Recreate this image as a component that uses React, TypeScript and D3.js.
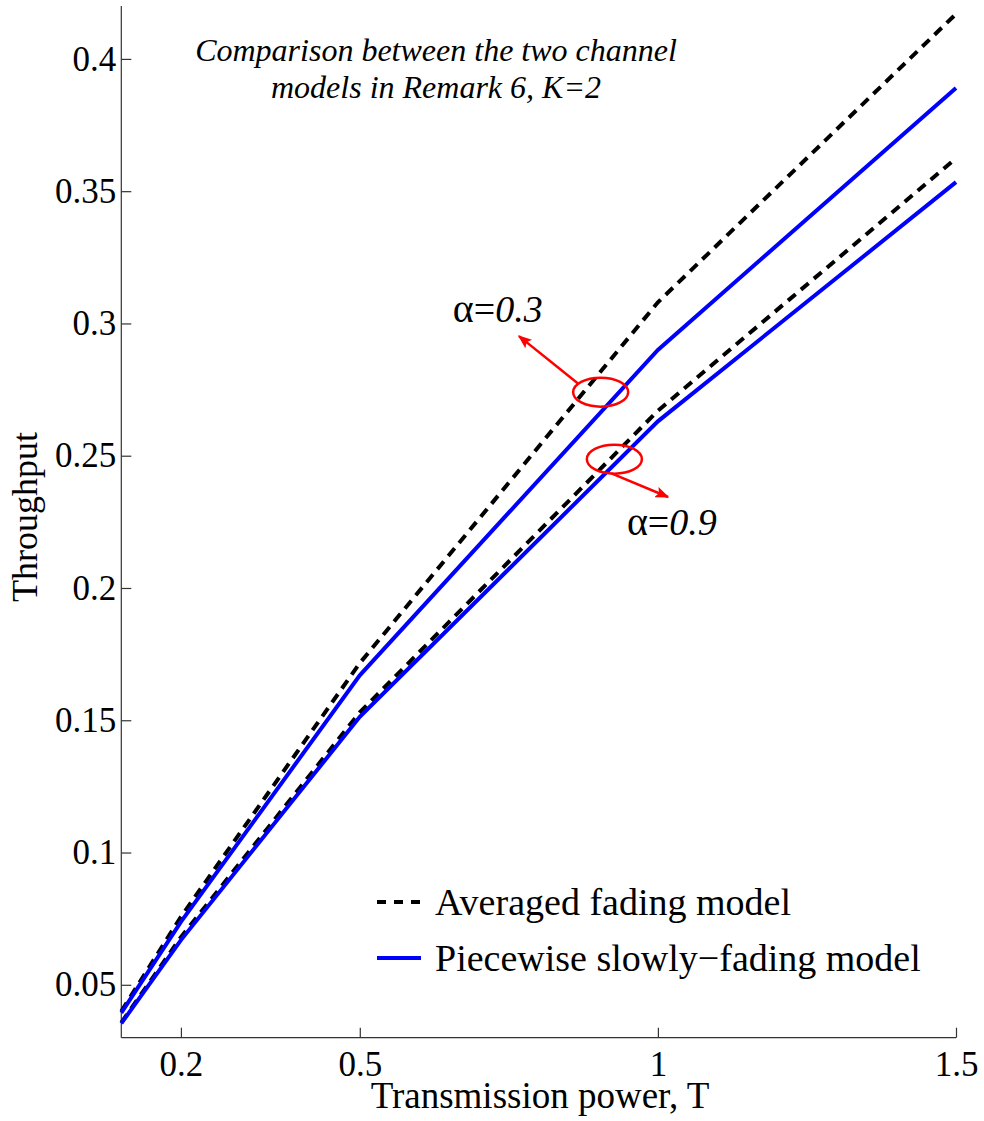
import { useRef, useEffect } from "react";
import * as d3 from "d3";

// transmission power values where the curves were sampled
const powerT = [0.1, 0.2, 0.5, 1, 1.5];

// alpha = 0.3
const avgFading03 = [0.0400, 0.0757, 0.1716, 0.3080, 0.4170];
const piecewise03 = [0.0394, 0.0738, 0.1670, 0.2900, 0.3890];
// alpha = 0.9
const avgFading09 = [0.0357, 0.0680, 0.1530, 0.2670, 0.3624];
const piecewise09 = [0.0354, 0.0669, 0.1513, 0.2630, 0.3534];

const xTicks = [0.2, 0.5, 1, 1.5];
const yTicks = [0.05, 0.1, 0.15, 0.2, 0.25, 0.3, 0.35, 0.4];

const legendLabels = ["Averaged fading model", "Piecewise slowly\u2212fading model"];

const serif = "'Liberation Serif', 'Times New Roman', serif";

function App() {
  const svgRef = useRef<SVGSVGElement>(null);

  useEffect(() => {
    const w = 984;
    const h = 1121;
    const svg = d3.select(svgRef.current).attr("width", w).attr("height", h);
    svg.selectAll("*").remove();

    // scales
    const x = d3.scaleLinear().domain([0.1, 1.5]).range([121.3, 956]);
    const y = d3.scaleLinear().domain([0.03, 0.42]).range([1037.7, 6]);

    const line = d3
      .line<number>()
      .x((d, i) => x(powerT[i]))
      .y((d) => y(d));

    // arrow marker
    svg
      .append("defs")
      .append("marker")
      .attr("id", "arrowhead")
      .attr("viewBox", "0 0 10 10")
      .attr("refX", 9)
      .attr("refY", 5)
      .attr("markerWidth", 14)
      .attr("markerHeight", 11)
      .attr("markerUnits", "userSpaceOnUse")
      .attr("orient", "auto")
      .attr("preserveAspectRatio", "none")
      .append("path")
      .attr("d", "M0,0 L10,5 L0,10 L2,5 Z")
      .attr("fill", "#ff0000");

    // axes
    const xAxis = d3
      .axisBottom(x)
      .tickValues(xTicks)
      .tickSize(-10)
      .tickPadding(13)
      .tickFormat((d) => String(d));
    const gx = svg.append("g").attr("transform", `translate(0, ${y(0.03)})`).call(xAxis);
    gx.select(".domain").attr("d", `M${x(0.1)},0H${x(1.5)}`);

    const yAxis = d3
      .axisLeft(y)
      .tickValues(yTicks)
      .tickSize(-10)
      .tickPadding(5)
      .tickFormat((d) => String(d));
    const gy = svg.append("g").attr("transform", `translate(${x(0.1)}, 0)`).call(yAxis);
    gy.select(".domain").attr("d", `M0,${y(0.03)}V${y(0.42)}`);

    [gx, gy].forEach((g) => {
      g.selectAll("path, line").attr("stroke", "#333").attr("stroke-width", 1.2);
      g.selectAll("text")
        .attr("font-family", serif)
        .attr("font-size", 35)
        .attr("fill", "#000");
    });
    gx.selectAll("text").attr("dy", "0.71em");

    // axis titles
    svg
      .append("text")
      .attr("x", 540)
      .attr("y", 1108)
      .attr("text-anchor", "middle")
      .attr("font-family", serif)
      .attr("font-size", 37)
      .text("Transmission power, T");

    svg
      .append("text")
      .attr("transform", "translate(37, 517) rotate(-90)")
      .attr("text-anchor", "middle")
      .attr("font-family", serif)
      .attr("font-size", 36)
      .text("Throughput");

    // title
    const title = svg
      .append("text")
      .attr("text-anchor", "middle")
      .attr("font-family", serif)
      .attr("font-style", "italic")
      .attr("font-size", 32);
    title.append("tspan").attr("x", 436).attr("y", 61).text("Comparison between the two channel");
    title.append("tspan").attr("x", 436).attr("y", 98).text("models in Remark 6, K=2");

    // series
    const dashed = { stroke: "#000", dash: "10 7" };
    const solid = { stroke: "#0000ff", dash: null };
    const series = [
      { data: avgFading03, ...dashed },
      { data: avgFading09, ...dashed },
      { data: piecewise03, ...solid },
      { data: piecewise09, ...solid },
    ];
    svg
      .selectAll(".series")
      .data(series)
      .join("path")
      .attr("class", "series")
      .attr("d", (d) => line(d.data))
      .attr("fill", "none")
      .attr("stroke", (d) => d.stroke)
      .attr("stroke-width", 4)
      .attr("stroke-dasharray", (d) => d.dash);

    // annotations
    const ann = [
      { cx: 0.904, cy: 0.274, sx: 0.866, sy: 0.2773, tx: 0.767, ty: 0.2952, lx: 0.656, ly: 0.3006, val: "0.3" },
      { cx: 0.927, cy: 0.2487, sx: 0.922, sy: 0.2433, tx: 1.017, ty: 0.2344, lx: 0.948, ly: 0.22, val: "0.9" },
    ];
    ann.forEach((a) => {
      svg
        .append("ellipse")
        .attr("cx", x(a.cx))
        .attr("cy", y(a.cy))
        .attr("rx", 27.5)
        .attr("ry", 14.5)
        .attr("fill", "none")
        .attr("stroke", "#ff0000")
        .attr("stroke-width", 2.5);
      svg
        .append("line")
        .attr("x1", x(a.sx))
        .attr("y1", y(a.sy))
        .attr("x2", x(a.tx))
        .attr("y2", y(a.ty))
        .attr("stroke", "#ff0000")
        .attr("stroke-width", 2.5)
        .attr("marker-end", "url(#arrowhead)");
      const t = svg
        .append("text")
        .attr("x", x(a.lx))
        .attr("y", y(a.ly))
        .attr("font-family", serif)
        .attr("font-size", 38);
      t.append("tspan").attr("font-size", 40).text("\u03b1");
      t.append("tspan").text("=");
      t.append("tspan").attr("font-style", "italic").text(a.val);
    });

    // legend
    const legend = svg.append("g").attr("transform", "translate(377, 0)");
    const rows = [
      { label: legendLabels[0], y: 902, ...dashed },
      { label: legendLabels[1], y: 958, ...solid },
    ];
    rows.forEach((r) => {
      legend
        .append("line")
        .attr("x1", 0)
        .attr("x2", 44)
        .attr("y1", r.y)
        .attr("y2", r.y)
        .attr("stroke", r.stroke)
        .attr("stroke-width", 4)
        .attr("stroke-dasharray", r.dash ? "9 8" : null);
      legend
        .append("text")
        .attr("x", 58)
        .attr("y", r.y)
        .attr("dy", "0.35em")
        .attr("font-family", serif)
        .attr("font-size", 38)
        .text(r.label);
    });
  }, []);

  return <svg ref={svgRef} style={{ position: "absolute", left: 0, top: 0, background: "#fff" }}></svg>;
}

export default App;
